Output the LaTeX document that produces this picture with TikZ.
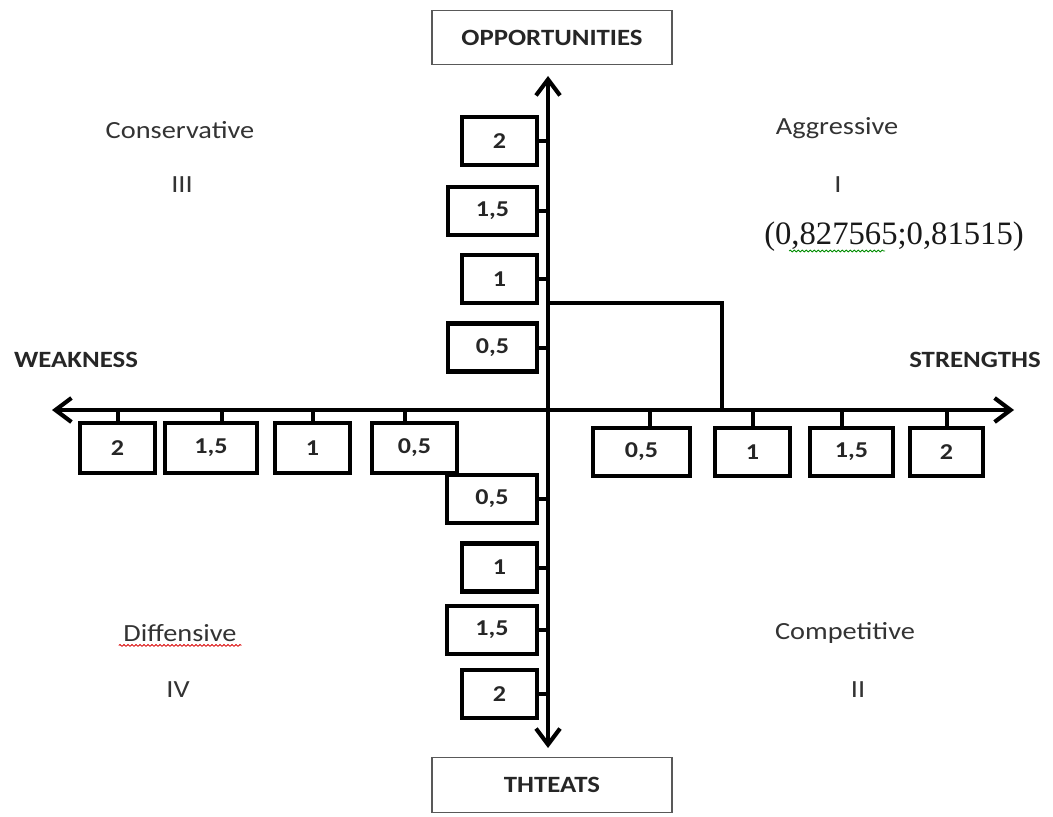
\documentclass[tikz,border=0pt]{standalone}
\usepackage{fontspec}
\setmainfont{Carlito}[FakeStretch=1.15]
\newfontfamily\serifnum{Liberation Serif}
\usetikzlibrary{arrows.meta,decorations.pathmorphing}

\tikzset{
  numbox/.style={draw, line width=3.1pt, rectangle, inner sep=0pt, minimum height=36pt,
    font=\bfseries\fontsize{17}{17}\selectfont, text=black!85},
  tick/.style={line width=3pt},
  axis/.style={line width=3.1pt,
    {Straight Barb[length=12pt,width=18pt]}-{Straight Barb[length=12pt,width=18pt]}},
  head/.style={draw=black!65, line width=0.9pt, minimum width=180pt, minimum height=41pt,
    font=\bfseries\fontsize{17.5}{17.5}\selectfont, text=black!85},
  quad/.style={font=\fontsize{18.5}{18.5}\selectfont, text=black!80},
  edgelbl/.style={font=\bfseries\fontsize{17.5}{17.5}\selectfont, text=black!85},
  squiggle/.style={line width=0.6pt, decorate,
    decoration={snake, amplitude=0.7pt, segment length=3pt}}
}

\begin{document}
\begin{tikzpicture}[x=0.75pt,y=-0.75pt]
\useasboundingbox (0,0) rectangle (1053,817);

% axes
\coordinate (O) at (548,410);
\coordinate (N) at (548,76);
\coordinate (S) at (548,748);
\coordinate (W) at (52,410);
\coordinate (E) at (1014,410);
\draw[axis] (W) -- (E);
\draw[axis] (S) -- (N);

% position of the result point
\coordinate (Q) at (548,303);
\coordinate (P) at (722,410);
\draw[line width=3.4pt] (Q) -| (P);

% scale boxes above the origin
\node[numbox, minimum width=56.25pt] (v2)  at (499.5,141)   {2};
\node[numbox, minimum width=66.75pt] (v15) at (492.5,211)   {1,5};
\node[numbox, minimum width=56.25pt] (v1)  at (499.5,279)   {1};
\node[numbox, minimum width=66.75pt] (v05) at (492.5,347.5) {0,5};
% scale boxes below the origin
\node[numbox, minimum width=67.5pt]  (w05) at (492,499)     {0,5};
\node[numbox, minimum width=56.25pt] (w1)  at (499.5,567.5) {1};
\node[numbox, minimum width=67.5pt]  (w15) at (492,630)     {1,5};
\node[numbox, minimum width=56.25pt] (w2)  at (499.5,694)   {2};
% scale boxes left of the origin
\node[numbox, minimum width=56.25pt, minimum height=37.5pt] (l2)  at (117.5,448) {2};
\node[numbox, minimum width=69pt,    minimum height=37.5pt] (l15) at (211,448)   {1,5};
\node[numbox, minimum width=56.25pt, minimum height=37.5pt] (l1)  at (312.5,448) {1};
\node[numbox, minimum width=63.75pt, minimum height=37.5pt] (l05) at (414.5,448) {0,5};
% scale boxes right of the origin
\node[numbox, minimum width=72.75pt] (r05) at (641.5,452) {0,5};
\node[numbox, minimum width=56.25pt] (r1)  at (752.5,452) {1};
\node[numbox, minimum width=62.25pt] (r15) at (851.5,452) {1,5};
\node[numbox, minimum width=54.75pt] (r2)  at (946.5,452) {2};

% ticks joining boxes to the axes
\foreach \b in {v2,v15,v1,v05,w05,w1,w15,w2}
  \draw[tick] (\b.east) -- (\b.east -| O);
\draw[tick] (l2.north) -- (l2.north |- O);
\draw[tick] ([xshift=8pt]l15.north) -- ([xshift=8pt]l15.north |- O);
\draw[tick] (l1.north) -- (l1.north |- O);
\draw[tick] ([xshift=-7pt]l05.north) -- ([xshift=-7pt]l05.north |- O);
\draw[tick] ([xshift=6.4pt]r05.north) -- ([xshift=6.4pt]r05.north |- O);
\draw[tick] (r1.north) -- (r1.north |- O);
\draw[tick] ([xshift=-7pt]r15.north) -- ([xshift=-7pt]r15.north |- O);
\draw[tick] (r2.north) -- (r2.north |- O);

% axis titles
\node[head] (opp) at (552,37.5) {OPPORTUNITIES};
\node[head] (thr) at (552,785)  {THTEATS};
\node[edgelbl] (weak) at (76,360)  {WEAKNESS};
\node[edgelbl] (strg) at (975,360) {STRENGTHS};

% quadrant names
\node[quad] (cons) at (180,130) {Conservative};
\node[quad] (q3)   at (182,185) {III};
\node[quad] (aggr) at (837,128) {Aggressive};
\node[quad] (q1)   at (838,185) {I};
\node[font=\serifnum\fontsize{24.5}{24.5}\selectfont, text=black!90] (pt) at (894,237) {(0,827565;0,81515)};
\node[quad] (diff) at (180,633) {Diffensive};
\node[quad] (q4)   at (178,690) {IV};
\node[quad] (comp) at (845,633) {Competitive};
\node[quad] (q2)   at (858,690) {II};

% proofing marks under the words
\draw[squiggle, red!85!black] ([yshift=-3pt]diff.base west) -- ([yshift=-3pt]diff.base east);
\coordinate (g1) at (789,251);
\coordinate (g2) at (885,251);
\draw[squiggle, green!55!black] (g1) -- (g2);
\end{tikzpicture}
\end{document}
